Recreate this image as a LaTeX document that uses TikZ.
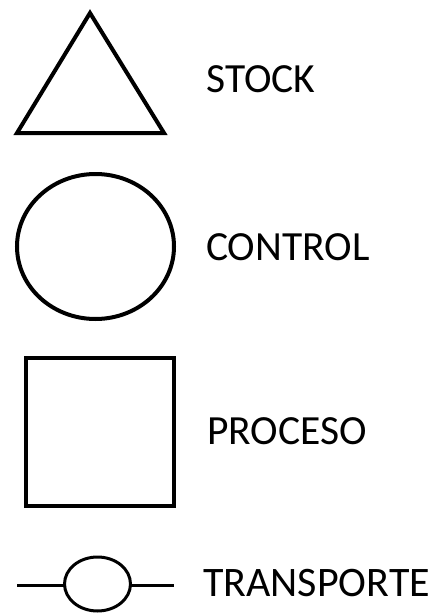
\documentclass[tikz,border=0pt]{standalone}
\usepackage{fontspec}
\setmainfont{Carlito}
\usetikzlibrary{shapes.geometric}
\begin{document}
\begin{tikzpicture}[x=1pt,y=-1pt,
  shapeline/.style={draw=black,line width=4pt,line join=miter},
  label/.style={anchor=base west,inner sep=0pt,font=\fontsize{41.5}{48}\selectfont},
  thinline/.style={draw=black,line width=3pt}]
\useasboundingbox (0,0) rectangle (436,613);
% stock
\draw[shapeline] (90,13) -- (164,133) -- (17,133) -- cycle;
\node[label] (stock) at (206,92) {STOCK};
% control
\draw[shapeline] (95.5,246.5) ellipse [x radius=78.5, y radius=72.5];
\node[label] (control) at (206,260) {CONTROL};
% proceso
\draw[shapeline] (26,358) rectangle (174,506);
\node[label] (proceso) at (207,444) {PROCESO};
% transporte
\node[thinline,ellipse,minimum width=66pt,minimum height=54pt,inner sep=0pt,outer sep=0pt] (tr) at (97.5,584) {};
\coordinate (tl) at (17,585);
\coordinate (trr) at (174,585);
\draw[thinline] (tl) -- (tl -| tr.west);
\draw[thinline] (trr -| tr.east) -- (trr);
\node[label,font=\fontsize{42}{48}\selectfont] (transporte) at (203,596) {TRANSPORTE};
\end{tikzpicture}
\end{document}
